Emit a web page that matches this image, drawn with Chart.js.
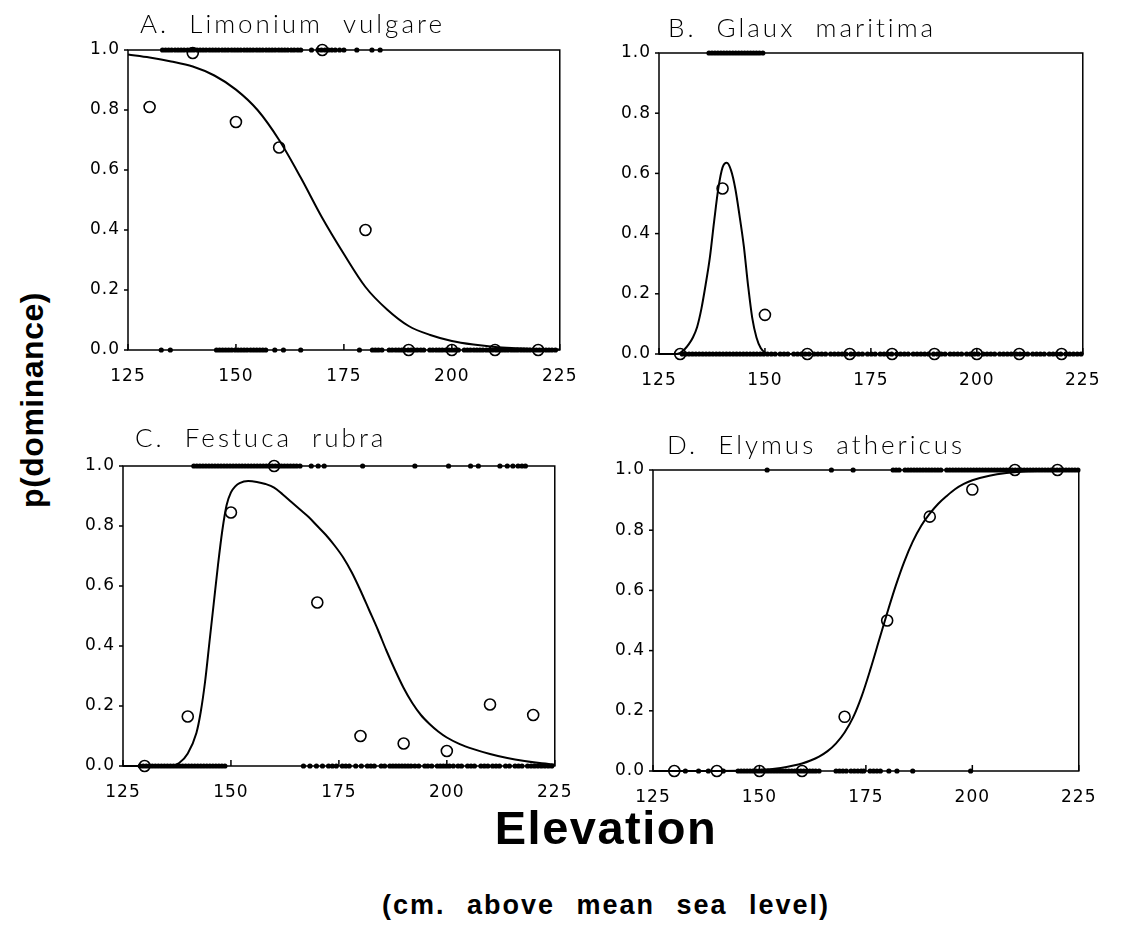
<!DOCTYPE html>
<html>
<head>
<meta charset="utf-8">
<title>p(dominance) vs elevation</title>
<script src="https://cdn.jsdelivr.net/npm/chart.js@4.4.1/dist/chart.umd.min.js"></script>
<style>
  html, body { margin: 0; padding: 0; background: #fff; }
  #page { position: relative; width: 1128px; height: 946px; overflow: hidden; background: #fff; }
  .panel { position: absolute; }
  .ylab {
    position: absolute; left: 32px; top: 400px;
    transform: translate(-50%, -50%) rotate(-90deg);
    font: bold 32px "Liberation Sans", Arial, sans-serif;
    letter-spacing: 0.5px; white-space: nowrap; color: #000;
  }
  .xlab {
    position: absolute; left: 606px; top: 827px;
    transform: translate(-50%, -50%);
    font: bold 47px "Liberation Sans", Arial, sans-serif;
    letter-spacing: 1.5px; white-space: nowrap; color: #000;
  }
  .xsub {
    position: absolute; left: 606px; top: 905px;
    transform: translate(-50%, -50%);
    font: bold 27px "Liberation Sans", Arial, sans-serif;
    letter-spacing: 2px; word-spacing: 12px; white-space: nowrap; color: #000;
  }
</style>
</head>
<body>
<div id="page">
  <div class="panel" id="wrap-a"><canvas id="chart-a"></canvas></div>
  <div class="panel" id="wrap-b"><canvas id="chart-b"></canvas></div>
  <div class="panel" id="wrap-c"><canvas id="chart-c"></canvas></div>
  <div class="panel" id="wrap-d"><canvas id="chart-d"></canvas></div>
  <div class="ylab">p(dominance)</div>
  <div class="xlab">Elevation</div>
  <div class="xsub">(cm. above mean sea level)</div>
</div>
<script>
// elevation bins (cm) for the observed proportions
const binElev = [130, 140, 150, 160, 170, 180, 190, 200, 210, 220];

// A. Limonium vulgare
const limoniumBin = [0.81, 0.99, 0.76, 0.675, 1.0, 0.40, 0, 0, 0, 0];
const limoniumCurveX = [125, 130, 135, 140, 145, 150, 155, 160, 165, 170, 175, 180, 185, 190, 195, 200, 205, 210, 215, 220, 225];
const limoniumCurveY = [0.985, 0.975, 0.962, 0.945, 0.915, 0.868, 0.80, 0.70, 0.575, 0.44, 0.32, 0.21, 0.135, 0.08, 0.05, 0.03, 0.018, 0.01, 0.006, 0.003, 0.002];
const limoniumPresent = [133, 133.7, 134.4, 135.1, 135.9, 136.6, 137.3, 138, 138.8, 139.5, 140.2, 141, 141.7, 142.4, 143.1, 143.9, 144.6, 145.3, 146, 146.8, 147.5, 148.2, 149, 149.7, 150.4, 151.1, 151.9, 152.6, 153.3, 154, 154.8, 155.5, 156.2, 157, 157.7, 158.4, 159.1, 159.9, 160.6, 161.3, 162, 162.8, 163.5, 164.3, 165, 167.5, 169, 169.8, 170.6, 171.4, 172.2, 173, 174, 175, 178, 181.5, 183.4];
const limoniumAbsent = [132.7, 134.8, 145.5, 146.2, 146.9, 147.6, 148.3, 149, 149.8, 150.5, 151.2, 151.9, 152.6, 153.4, 154.1, 154.8, 155.5, 156.2, 156.9, 159, 161, 165, 178.6, 181.6, 182.3, 183, 183.8, 185.5, 186.2, 187, 187.7, 188.4, 189.1, 189.9, 190.6, 191.3, 192, 192.8, 193.5, 194.9, 195.6, 196.4, 197.1, 197.8, 198.6, 199.3, 200, 200.7, 201.5, 202.9, 203.6, 204.3, 205.1, 205.8, 206.5, 207.2, 208, 208.7, 209.4, 210.2, 210.9, 211.6, 212.3, 213, 213.8, 214.5, 215.2, 216, 216.7, 217.4, 218.1, 218.9, 219.6, 220.3, 221, 221.8, 222.5, 223.2, 224];

// B. Glaux maritima
const glauxBin = [0, 0.55, 0.13, 0, 0, 0, 0, 0, 0, 0];
const glauxCurveX = [125, 129, 130, 131, 132, 133, 134, 135, 136, 137, 138, 139, 140, 141, 142, 143, 144, 145, 146, 147, 148, 149, 150, 151, 225];
const glauxCurveY = [0, 0, 0.004, 0.015, 0.032, 0.055, 0.09, 0.15, 0.23, 0.32, 0.44, 0.55, 0.62, 0.635, 0.61, 0.55, 0.46, 0.36, 0.23, 0.12, 0.055, 0.02, 0.005, 0, 0];
const glauxPresent = [136.8, 137.5, 138.2, 138.9, 139.6, 140.3, 141, 141.7, 142.4, 143.1, 143.8, 144.5, 145.2, 145.9, 146.6, 147.3, 148, 148.7, 149.5];
const glauxAbsent = [130.5, 131.3, 132.1, 132.9, 133.7, 134.5, 135.3, 136.1, 136.9, 137.7, 138.5, 139.3, 140.1, 140.9, 141.7, 142.5, 143.3, 144.1, 144.9, 145.7, 146.5, 147.3, 148.1, 148.9, 149.7, 150.6, 151.5, 152.4, 153.6, 154.5, 155.4, 156.8, 157.7, 158.6, 159.5, 160.4, 161.6, 162.5, 163.4, 164.3, 165.5, 166.4, 167.3, 168.2, 169.1, 170.3, 171.2, 172.1, 173, 174.2, 175.1, 176, 177.2, 178.1, 179, 179.9, 181.1, 182, 182.9, 183.8, 185, 185.9, 186.8, 187.7, 188.6, 189.8, 190.7, 191.6, 192.5, 193.7, 194.6, 195.5, 196.4, 197.6, 198.5, 199.4, 200.3, 201.5, 202.4, 203.3, 204.2, 205.4, 206.3, 207.2, 208.1, 209.3, 210.2, 211.1, 212, 213.2, 214.1, 215, 215.9, 217.1, 218, 218.9, 219.8, 221, 221.9, 222.8, 223.7, 224.6];

// C. Festuca rubra
const festucaBin = [0, 0.165, 0.845, 1.0, 0.545, 0.10, 0.075, 0.05, 0.205, 0.17];
const festucaCurveX = [125, 136, 138, 140, 142, 143, 144, 145, 146, 147, 148, 149, 150, 151, 152, 154, 156, 158, 160, 162, 164, 166, 168, 170, 172, 174, 176, 178, 180, 182, 184, 186, 188, 190, 192, 194, 196, 198, 200, 203, 206, 210, 214, 218, 222, 225];
const festucaCurveY = [0, 0, 0.01, 0.042, 0.11, 0.18, 0.28, 0.41, 0.54, 0.67, 0.785, 0.87, 0.912, 0.932, 0.943, 0.95, 0.947, 0.94, 0.928, 0.905, 0.88, 0.855, 0.83, 0.80, 0.77, 0.735, 0.695, 0.645, 0.585, 0.52, 0.455, 0.385, 0.32, 0.26, 0.21, 0.17, 0.14, 0.115, 0.095, 0.073, 0.057, 0.04, 0.027, 0.017, 0.009, 0.005];
const festucaPresent = [141.4, 142.1, 142.8, 143.5, 144.2, 144.9, 145.6, 146.3, 147, 147.7, 148.4, 149.1, 149.8, 150.5, 151.2, 151.9, 152.6, 153.3, 154, 154.7, 155.4, 156.1, 156.8, 157.5, 158.2, 158.9, 159.6, 160.3, 161, 161.7, 162.4, 163.1, 163.8, 164.5, 165.2, 166, 168.6, 170.2, 171.6, 180.5, 192.6, 200.4, 205.5, 207.3, 212.3, 214, 215.3, 216.5, 217.4, 218.2];
const festucaAbsent = [129, 129.7, 130.4, 131.1, 131.8, 132.5, 133.2, 133.9, 134.6, 135.3, 136, 136.7, 137.4, 138.1, 138.8, 139.5, 140.2, 140.9, 141.6, 142.3, 143, 143.7, 144.4, 145.1, 145.8, 146.5, 147.2, 147.9, 148.6, 166.8, 168.3, 169.8, 171.2, 172.6, 173.5, 174.4, 175.8, 176.6, 177.4, 178.9, 180.2, 181.6, 182.4, 183.2, 184.8, 185.6, 186.8, 187.5, 188.2, 188.9, 189.6, 190.3, 191, 191.7, 192.6, 193.5, 194.9, 195.6, 196.5, 197.8, 198.5, 199.2, 199.9, 200.6, 201.5, 202.6, 203.4, 204.8, 205.6, 206.4, 207.9, 208.7, 209.5, 210.6, 211.4, 212.2, 213.6, 214.5, 215.8, 216.6, 217.4, 218.7, 219.5, 220.3, 221.1, 221.9, 222.7, 223.5, 224.3];

// D. Elymus athericus
const elymusBin = [0, 0, 0, 0, 0.18, 0.50, 0.845, 0.935, 1.0, 1.0];
const elymusCurveX = [125, 140, 150, 155, 158, 160, 162, 164, 166, 168, 170, 172, 174, 176, 178, 180, 182, 184, 186, 188, 190, 192, 194, 196, 198, 200, 204, 208, 212, 218, 225];
const elymusCurveY = [0, 0, 0.003, 0.01, 0.018, 0.025, 0.035, 0.048, 0.066, 0.092, 0.128, 0.178, 0.248, 0.335, 0.43, 0.525, 0.615, 0.695, 0.762, 0.815, 0.855, 0.888, 0.914, 0.937, 0.954, 0.966, 0.981, 0.99, 0.995, 0.998, 1.0];
const elymusPresent = [151.8, 166.9, 172, 181.4, 182.1, 182.8, 184.2, 184.9, 185.6, 186.3, 187, 187.7, 188.4, 189.1, 189.8, 190.5, 191.2, 191.9, 192.6, 194, 194.7, 195.4, 196.1, 196.8, 197.5, 198.2, 198.9, 199.6, 200.3, 201, 201.7, 202.4, 203.1, 203.8, 204.5, 205.2, 205.9, 206.6, 207.3, 208, 208.7, 209.4, 210.1, 210.8, 211.5, 212.2, 212.9, 213.6, 214.3, 215, 215.7, 216.4, 217.1, 217.8, 218.5, 219.2, 219.9, 220.6, 221.3, 222, 222.7, 223.4, 224.1, 224.8];
const elymusAbsent = [132.6, 135.7, 138, 141.5, 145, 145.7, 146.4, 147.1, 147.8, 148.5, 149.2, 149.9, 150.6, 151.3, 152, 152.7, 153.4, 154.1, 154.8, 155.5, 156.2, 156.9, 157.6, 158.3, 159, 159.7, 160.4, 161.1, 161.8, 162.5, 163.2, 164, 168, 168.8, 169.6, 170.4, 171.5, 172.3, 173.1, 173.9, 174.5, 176, 176.8, 177.6, 178.4, 180.4, 182.3, 186, 199.6];

const PANELS = [
  { key: "a", title: "A.  Limonium  vulgare", box: { l: 128, t: 50, w: 440, h: 300 }, tdx: 12, tdy: 17,
    bin: limoniumBin, cx: limoniumCurveX, cy: limoniumCurveY, pres: limoniumPresent, abs: limoniumAbsent },
  { key: "b", title: "B.  Glaux  maritima", box: { l: 659, t: 53, w: 432, h: 301 }, tdx: 9, tdy: 16,
    bin: glauxBin, cx: glauxCurveX, cy: glauxCurveY, pres: glauxPresent, abs: glauxAbsent },
  { key: "c", title: "C.  Festuca  rubra", box: { l: 123, t: 466, w: 440, h: 300 }, tdx: 12, tdy: 19,
    bin: festucaBin, cx: festucaCurveX, cy: festucaCurveY, pres: festucaPresent, abs: festucaAbsent },
  { key: "d", title: "D.  Elymus  athericus", box: { l: 653, t: 470, w: 434, h: 301 }, tdx: 14, tdy: 16,
    bin: elymusBin, cx: elymusCurveX, cy: elymusCurveY, pres: elymusPresent, abs: elymusAbsent },
];

const PAD_TOP = 45, AXIS_W = 60, AXIS_H = 42, PAD_RIGHT = 24;
const TICK_FONT = { family: '"DejaVu Sans", "Liberation Sans", sans-serif', size: 17 };

const framePlugin = {
  id: "frame",
  beforeDraw(chart) {
    chart.ctx.letterSpacing = "1px";
  },
  beforeDatasetsDraw(chart) {
    const { ctx, chartArea: a, scales } = chart;
    ctx.save();
    ctx.strokeStyle = "#000";
    ctx.lineWidth = 1.5;
    ctx.strokeRect(a.left, a.top, a.right - a.left, a.bottom - a.top);
    scales.x.ticks.forEach((t) => {
      const px = scales.x.getPixelForValue(t.value);
      ctx.beginPath(); ctx.moveTo(px, a.bottom); ctx.lineTo(px, a.bottom - 6); ctx.stroke();
    });
    scales.y.ticks.forEach((t) => {
      const py = scales.y.getPixelForValue(t.value);
      ctx.beginPath(); ctx.moveTo(a.left, py); ctx.lineTo(a.left - 4, py); ctx.stroke();
    });
    ctx.restore();
  },
  afterDraw(chart, args, opts) {
    const { ctx, chartArea: a } = chart;
    ctx.save();
    ctx.fillStyle = "#000";
    ctx.font = '300 26px Lato, "DejaVu Sans", sans-serif';
    ctx.letterSpacing = "3px";
    ctx.textBaseline = "alphabetic";
    ctx.fillText(opts.text, a.left + opts.dx, a.top - opts.dy);
    ctx.restore();
  },
};

function rug(values, level) {
  return values.map((x) => ({ x, y: level }));
}

function makePanel(p) {
  const wrap = document.getElementById("wrap-" + p.key);
  const canvas = document.getElementById("chart-" + p.key);
  const w = p.box.w + AXIS_W + PAD_RIGHT;
  const h = p.box.h + PAD_TOP + AXIS_H;
  wrap.style.left = (p.box.l - AXIS_W) + "px";
  wrap.style.top = (p.box.t - PAD_TOP) + "px";
  canvas.width = w;
  canvas.height = h;
  canvas.style.width = w + "px";
  canvas.style.height = h + "px";

  return new Chart(canvas, {
    type: "scatter",
    data: {
      datasets: [
        {
          type: "line",
          data: p.cx.map((x, i) => ({ x, y: p.cy[i] })),
          borderColor: "#000",
          borderWidth: 2,
          pointRadius: 0,
          cubicInterpolationMode: "monotone",
          fill: false,
          clip: 4,
        },
        {
          data: binElev.map((x, i) => ({ x, y: p.bin[i] })),
          pointStyle: "circle",
          pointRadius: 5.5,
          borderWidth: 1.6,
          borderColor: "#000",
          backgroundColor: "rgba(0,0,0,0)",
          clip: 10,
        },
        {
          data: rug(p.pres, 1),
          pointRadius: 2.6,
          borderWidth: 0,
          backgroundColor: "#000",
          clip: 10,
        },
        {
          data: rug(p.abs, 0),
          pointRadius: 2.6,
          borderWidth: 0,
          backgroundColor: "#000",
          clip: 10,
        },
      ],
    },
    options: {
      responsive: false,
      animation: false,
      events: [],
      layout: { padding: { top: PAD_TOP, right: PAD_RIGHT, left: 0, bottom: 0 } },
      plugins: {
        legend: { display: false },
        tooltip: { enabled: false },
        frame: { text: p.title, dx: p.tdx, dy: p.tdy },
      },
      scales: {
        x: {
          type: "linear", min: 125, max: 225,
          grid: { display: false, drawTicks: false },
          border: { display: false },
          ticks: { stepSize: 25, color: "#000", font: TICK_FONT, padding: 16, maxRotation: 0 },
          afterFit(s) { s.height = AXIS_H; },
        },
        y: {
          type: "linear", min: 0, max: 1,
          grid: { display: false, drawTicks: false },
          border: { display: false },
          ticks: { stepSize: 0.2, color: "#000", font: TICK_FONT, padding: 8, callback: (v) => v.toFixed(1) },
          afterFit(s) { s.width = AXIS_W; },
        },
      },
    },
    plugins: [framePlugin],
  });
}

const charts = PANELS.map(makePanel);
</script>
</body>
</html>
